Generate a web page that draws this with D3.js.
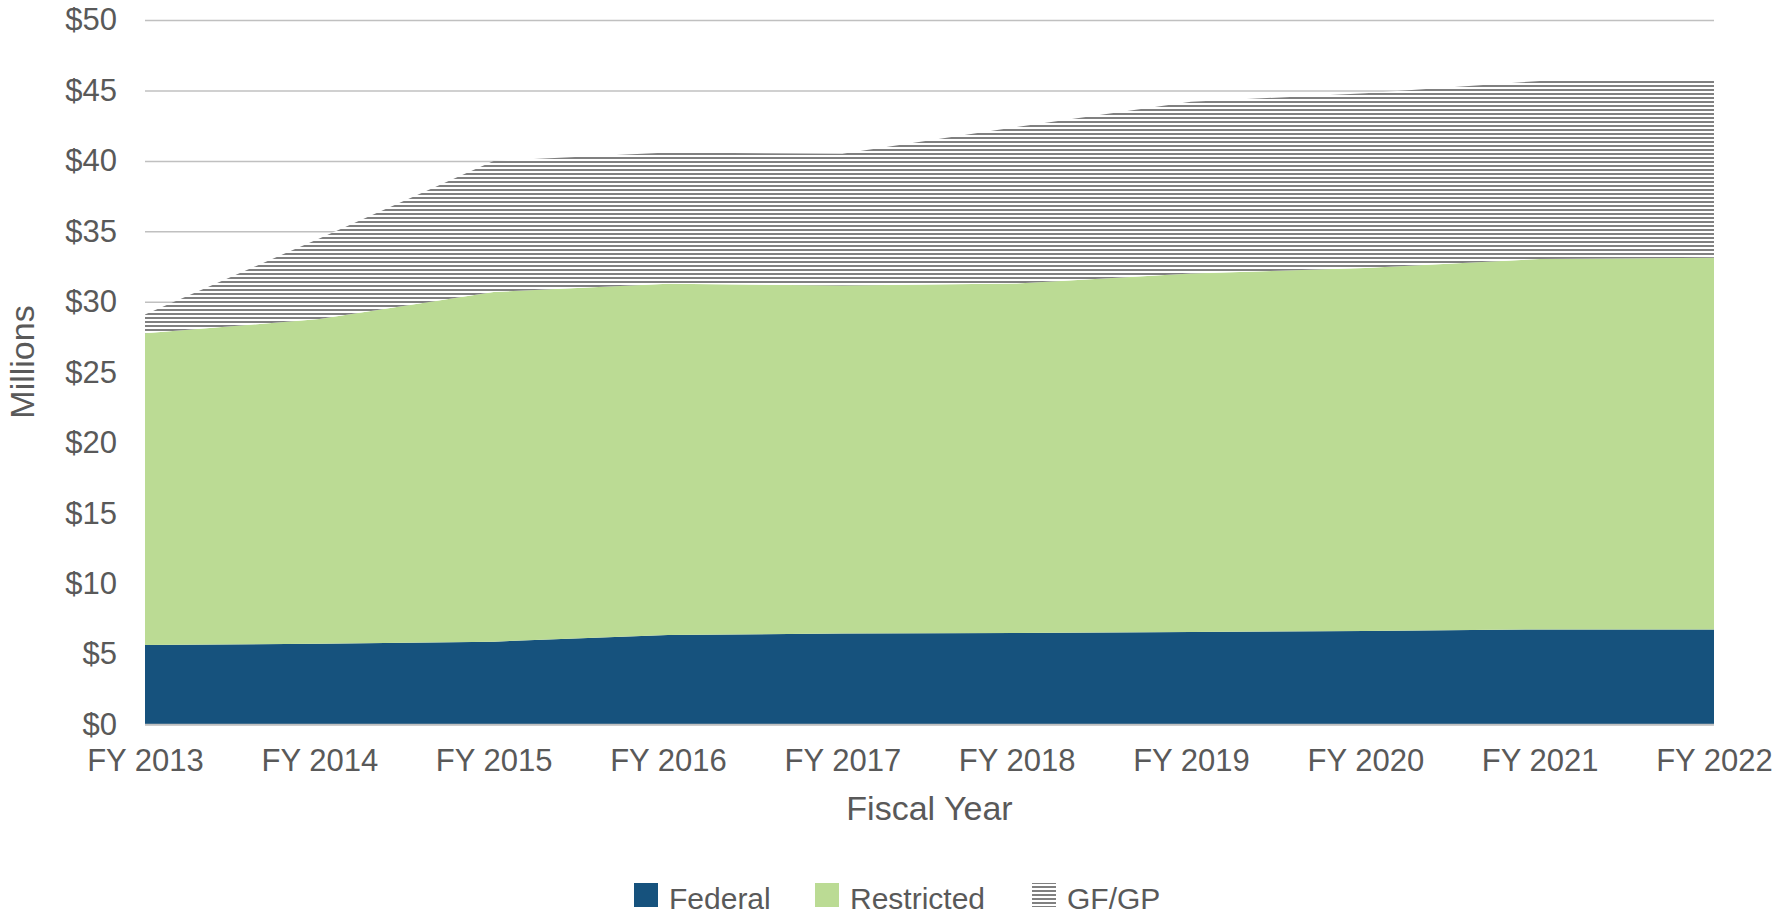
<!DOCTYPE html>
<html>
<head>
<meta charset="utf-8">
<script src="https://cdn.jsdelivr.net/npm/d3@7"></script>
<style>
  body { margin: 0; background: #fff; }
  svg { display: block; font-family: "Liberation Sans", Arial, sans-serif; }
</style>
</head>
<body>
<svg id="chart"></svg>
<script>
const width = 1776;
const height = 918;

// values in $ millions
const years = ['FY 2013', 'FY 2014', 'FY 2015', 'FY 2016', 'FY 2017', 'FY 2018', 'FY 2019', 'FY 2020', 'FY 2021', 'FY 2022'];
const federal = [5.64, 5.73, 5.88, 6.35, 6.45, 6.49, 6.56, 6.63, 6.75, 6.75];
const restricted = [22.12, 23.05, 24.82, 24.93, 24.70, 24.81, 25.44, 25.77, 26.29, 26.38];
const gfgp = [1.34, 5.72, 9.30, 9.32, 9.35, 11.10, 12.20, 12.40, 12.63, 12.54];
const yTicks = [0, 5, 10, 15, 20, 25, 30, 35, 40, 45, 50];
const seriesNames = ['Federal', 'Restricted', 'GF/GP'];

const textColor = '#595959';
const gridColor = '#c0c0c0';
const colors = ['#16527d', '#bbdb94', 'url(#hatch)'];

const svg = d3.select('#chart')
    .attr('width', width)
    .attr('height', height);

const defs = svg.append('defs');
const hatch = defs.append('pattern')
    .attr('id', 'hatch')
    .attr('patternUnits', 'userSpaceOnUse')
    .attr('width', 8)
    .attr('height', 4);
hatch.append('rect').attr('width', 8).attr('height', 4).attr('fill', '#fff');
hatch.append('rect').attr('y', 1).attr('width', 8).attr('height', 2).attr('fill', '#808080');

const x = d3.scalePoint().domain(years).range([145, 1714]);
const y = d3.scaleLinear().domain([0, 50]).range([724.5, 20]);

const table = years.map((yr, i) => ({
    year: yr,
    Federal: federal[i],
    Restricted: restricted[i],
    'GF/GP': gfgp[i]
}));

const stacked = d3.stack().keys(seriesNames)(table);

// gridlines
const yAxis = svg.append('g')
    .attr('transform', `translate(${x.range()[0]},0)`)
    .call(d3.axisLeft(y)
        .tickValues(yTicks)
        .tickSize(-(x.range()[1] - x.range()[0]))
        .tickPadding(28)
        .tickFormat(d => '$' + d));
yAxis.select('.domain').remove();
yAxis.selectAll('.tick line')
    .attr('stroke', gridColor)
    .attr('stroke-width', 1.5);
yAxis.selectAll('.tick text')
    .attr('fill', textColor)
    .attr('font-size', 31)
    .attr('font-family', '"Liberation Sans", Arial, sans-serif');

// areas
const area = d3.area()
    .x(d => x(d.data.year))
    .y0(d => y(d[0]))
    .y1(d => y(d[1]));

svg.append('g')
    .selectAll('path')
    .data(stacked)
    .join('path')
    .attr('d', area)
    .attr('fill', (d, i) => colors[i]);

// baseline
svg.append('line')
    .attr('x1', x.range()[0])
    .attr('x2', x.range()[1])
    .attr('y1', y(0))
    .attr('y2', y(0))
    .attr('stroke', gridColor)
    .attr('stroke-width', 1.5);

// x axis labels
const xAxis = svg.append('g')
    .attr('transform', `translate(0,${y(0)})`)
    .call(d3.axisBottom(x).tickSize(0).tickPadding(24));
xAxis.select('.domain').remove();
xAxis.selectAll('.tick text')
    .attr('fill', textColor)
    .attr('font-size', 31)
    .attr('font-family', '"Liberation Sans", Arial, sans-serif');

// axis titles
svg.append('text')
    .attr('x', (x.range()[0] + x.range()[1]) / 2)
    .attr('y', 820)
    .attr('text-anchor', 'middle')
    .attr('fill', textColor)
    .attr('font-size', 34)
    .text('Fiscal Year');

svg.append('text')
    .attr('transform', 'translate(34,362) rotate(-90)')
    .attr('text-anchor', 'middle')
    .attr('fill', textColor)
    .attr('font-size', 34)
    .text('Millions');

// legend
const legendX = [634, 815, 1032];
const legendY = 883;
const hatchLegend = defs.append('pattern')
    .attr('id', 'hatchLegend')
    .attr('patternUnits', 'userSpaceOnUse')
    .attr('width', 8)
    .attr('height', 4)
    .attr('y', legendY);
hatchLegend.append('rect').attr('width', 8).attr('height', 4).attr('fill', '#fff');
hatchLegend.append('rect').attr('y', 0).attr('width', 8).attr('height', 2).attr('fill', '#808080');

const legend = svg.append('g')
    .selectAll('g')
    .data(seriesNames)
    .join('g')
    .attr('transform', (d, i) => `translate(${legendX[i]},${legendY})`);

legend.append('rect')
    .attr('width', 24)
    .attr('height', 24)
    .attr('fill', (d, i) => i === 2 ? 'url(#hatchLegend)' : colors[i]);

legend.append('text')
    .attr('x', 35)
    .attr('y', 26)
    .attr('fill', textColor)
    .attr('font-size', 30)
    .text(d => d);
</script>
</body>
</html>
